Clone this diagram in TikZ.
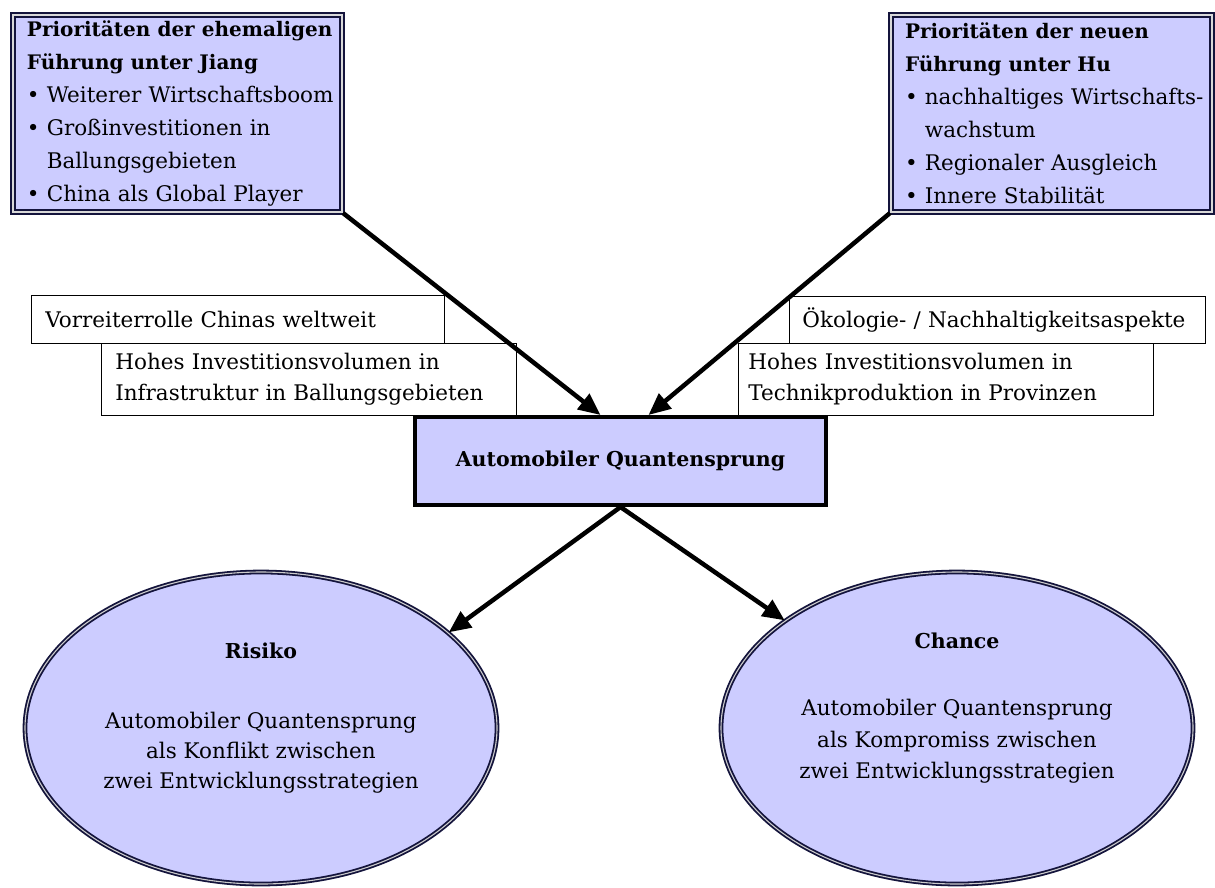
\documentclass[tikz,border=0pt]{standalone}
\usepackage{fontspec}
\setmainfont{DejaVu Serif}
\usepackage{tikz}
\usetikzlibrary{arrows.meta}
\usetikzlibrary{shapes.geometric}

\definecolor{lav}{RGB}{204,204,255}
\definecolor{navy}{RGB}{20,20,60}

\newcommand{\bul}[1]{\mbox{\textbullet\ #1}}
\newcommand{\cont}[1]{\mbox{\phantom{\textbullet\ }#1}}
\newcommand{\head}[1]{\mbox{\fontsize{20}{33}\selectfont\bfseries #1}}

\begin{document}
\begin{tikzpicture}[x=1pt, y=-1pt,
    prio/.style={draw=navy, double=white!85!black, line width=2pt, double distance=1.3pt,
        fill=lav, anchor=north west, minimum height=197pt, inner xsep=14pt,
        align=left, font=\fontsize{21.5}{33}\selectfont},
    lbl/.style={draw, fill=white, line width=0.8pt, anchor=north west,
        align=left, font=\fontsize{21.5}{31}\selectfont},
    oval/.style={ellipse, draw=navy, double=white!80!black, line width=1.8pt,
        double distance=1.1pt, fill=lav, minimum width=472pt, minimum height=312pt,
        inner sep=0pt},
    arr/.style={line width=4.5pt, -{Triangle[length=22pt, width=19pt]}}]
    \useasboundingbox (0,0) rectangle (1215,887);

    % priorities
    \node[prio, text width=301pt] (jiang) at (12,14)
        {\head{Prioritäten der ehemaligen}\\
         \head{Führung unter Jiang}\\
         \bul{Weiterer Wirtschaftsboom}\\
         \bul{Großinvestitionen in}\\
         \cont{Ballungsgebieten}\\
         \bul{China als Global Player}};
    \node[prio, text width=293pt] (hu) at (890,14)
        {\head{Prioritäten der neuen}\\
         \head{Führung unter Hu}\\
         \bul{nachhaltiges Wirtschafts-}\\
         \cont{wachstum}\\
         \bul{Regionaler Ausgleich}\\
         \bul{Innere Stabilität}};

    % aspects
    \node[lbl, minimum height=48pt, text width=385pt, inner xsep=14pt] (vorreiter) at (31,295)
        {Vorreiterrolle Chinas weltweit};
    \node[lbl, minimum height=72pt, text width=387pt, inner xsep=14pt] (infra) at (101,343)
        {Hohes Investitionsvolumen in\\Infrastruktur in Ballungsgebieten};
    \node[lbl, minimum height=47pt, text width=390pt, inner xsep=13pt] (oeko) at (789,296)
        {Ökologie- / Nachhaltigkeitsaspekte};
    \node[lbl, minimum height=72pt, text width=395pt, inner xsep=10pt] (technik) at (738,343)
        {Hohes Investitionsvolumen in\\Technikproduktion in Provinzen};

    % body
    \node[draw, line width=4pt, fill=lav, minimum width=411pt, minimum height=88pt,
        font=\fontsize{20.5}{24}\selectfont\bfseries] (quant) at (620.5,461)
        {Automobiler Quantensprung};

    \node[oval] (risiko) at (261,728) {};
    \node[oval] (chance) at (957,728) {};
    \node[align=center, font=\fontsize{21.5}{30}\selectfont] (risikotxt)
        at ([yshift=10pt]risiko.center)
        {{\fontsize{20.5}{24}\selectfont\bfseries Risiko}\\[40pt]
         Automobiler Quantensprung\\als Konflikt zwischen\\zwei Entwicklungsstrategien};
    \node[align=center, font=\fontsize{21.5}{31.5}\selectfont] (chancetxt)
        at ([yshift=20pt]chance.center)
        {{\fontsize{20.5}{24}\selectfont\bfseries Chance}\\[36pt]
         Automobiler Quantensprung\\als Kompromiss zwischen\\zwei Entwicklungsstrategien};

    % arrows
    \draw[arr] (jiang.south east) -- ([xshift=-20pt]quant.north);
    \draw[arr] (hu.south west) -- ([xshift=28pt]quant.north);
    \draw[arr] (quant.south) -- (risiko.27);
    \draw[arr] (quant.south) -- (chance.148);
\end{tikzpicture}
\end{document}
